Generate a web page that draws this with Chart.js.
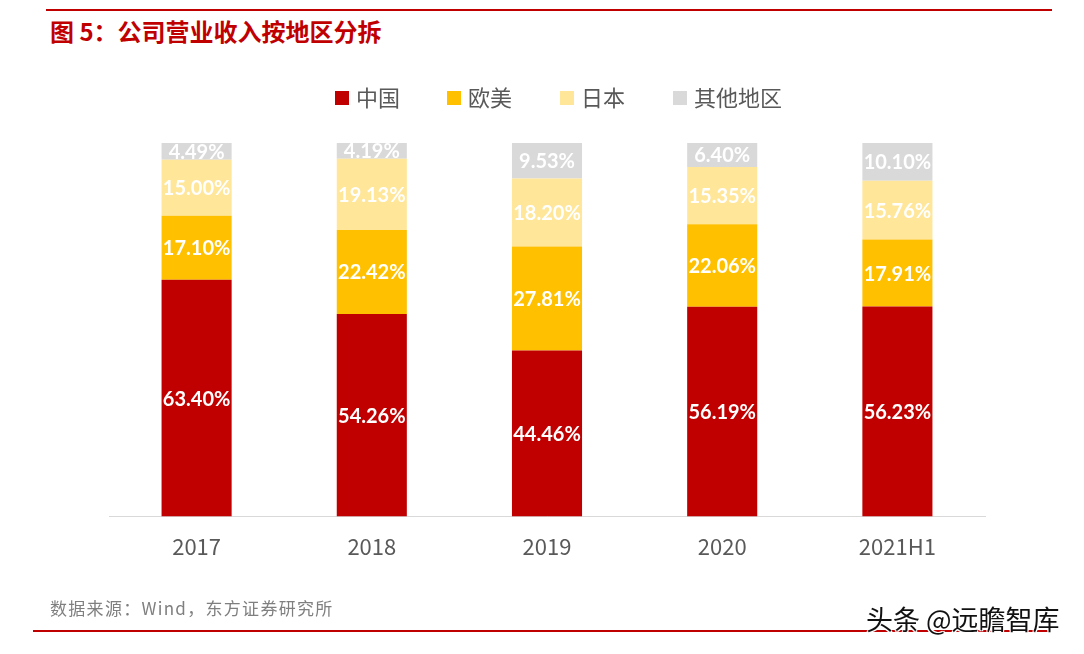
<!DOCTYPE html>
<html><head><meta charset="utf-8">
<script src="https://cdn.jsdelivr.net/npm/chart.js@4/dist/chart.umd.min.js"></script>
<style>
html,body{margin:0;padding:0;background:#fff;width:1084px;height:654px;overflow:hidden;position:relative;font-family:"Noto Sans CJK SC",sans-serif}
#wrap{position:absolute;left:0;top:0;width:1084px;height:654px}
.line{position:absolute;background:#c00000}
#title{position:absolute;left:50px;top:14px;font-size:24px;font-weight:bold;color:#c00000;line-height:34px}
#src{position:absolute;left:50px;top:596px;font-size:17px;letter-spacing:1.3px;color:#7f7f7f;line-height:24px}
#wm{position:absolute;left:866px;top:602px;font-size:27px;color:#111;line-height:34px;text-shadow:-1px -1px 0 #fff,1px -1px 0 #fff,-1px 1px 0 #fff,1px 1px 0 #fff}
</style></head>
<body>
<div class="line" style="left:46px;top:9px;width:1006px;height:2px"></div>
<div id="title">图 5：公司营业收入按地区分拆</div>
<div id="wrap"><canvas id="c" width="1084" height="654"></canvas></div>
<div class="line" style="left:33px;top:630px;width:1018px;height:2px"></div>
<div id="src">数据来源：Wind，东方证券研究所</div>
<div id="wm">头条 @远瞻智库</div>
<script>
const categories = ["2017","2018","2019","2020","2021H1"];
const seriesNames = ["中国","欧美","日本","其他地区"];
const china = [63.40,54.26,44.46,56.19,56.23];
const euroUS = [17.10,22.42,27.81,22.06,17.91];
const japan = [15.00,19.13,18.20,15.35,15.76];
const others = [4.49,4.19,9.53,6.40,10.10];
const colors = ["#c00000","#ffc000","#ffe699","#d9d9d9"];
const values = [china,euroUS,japan,others];

const labelPlugin = {
  id:'segLabels',
  afterDatasetsDraw(chart){
    const ctx = chart.ctx;
    ctx.save();
    ctx.fillStyle = '#fff';
    ctx.font = 'bold 20px Lato, "Open Sans", sans-serif';
    ctx.textAlign = 'center';
    ctx.textBaseline = 'middle';
    chart.data.datasets.forEach((ds,di)=>{
      const meta = chart.getDatasetMeta(di);
      meta.data.forEach((el,i)=>{
        const y = (el.y + el.base)/2;
        ctx.fillText(ds.data[i].toFixed(2)+'%', el.x, y+1);
      });
    });
    ctx.restore();
  },
  afterDraw(chart){
    const ctx = chart.ctx;
    ctx.save();
    ctx.font = '22px "Noto Sans CJK SC", sans-serif';
    ctx.textBaseline = 'middle';
    ctx.textAlign = 'left';
    const xs = [335,447,560,673];
    const cy = 98;
    chart.data.datasets.forEach((ds,di)=>{
      ctx.fillStyle = ds.backgroundColor;
      ctx.fillRect(xs[di], cy-7, 14, 14);
      ctx.fillStyle = '#595959';
      ctx.fillText(ds.label, xs[di]+21, cy);
    });
    ctx.restore();
  }
};

new Chart(document.getElementById('c'), {
  type:'bar',
  data:{
    labels: categories,
    datasets: seriesNames.map((n,i)=>({label:n,data:values[i],backgroundColor:colors[i],barPercentage:0.4,categoryPercentage:1}))
  },
  options:{
    responsive:false,
    animation:false,
    layout:{padding:{left:109,right:99,top:143,bottom:77}},
    plugins:{legend:{display:false},tooltip:{enabled:false}},
    scales:{
      x:{stacked:true,grid:{display:false,drawTicks:false},border:{display:true,color:'#d9d9d9',width:1},
         ticks:{color:'#595959',font:{size:22,family:'"Noto Sans CJK SC", sans-serif'},padding:17}},
      y:{stacked:true,display:false,min:0,max:100}
    }
  },
  plugins:[labelPlugin]
});
</script>
</body></html>
